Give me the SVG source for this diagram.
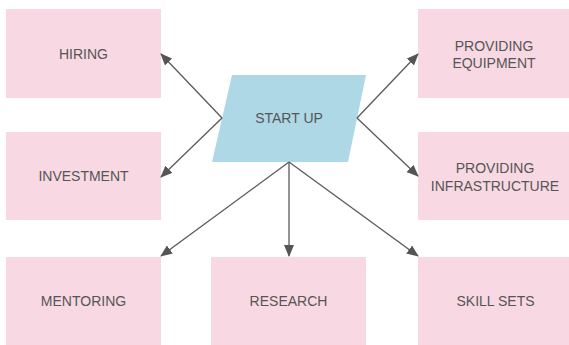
<svg xmlns="http://www.w3.org/2000/svg" width="569" height="345" viewBox="0 0 569 345">
<style>
.box{fill:#f8d9e3;}
.start{fill:#aed8e6;}
.lbl{font-family:"Liberation Sans",Arial,sans-serif;font-size:14px;fill:#555555;text-anchor:middle;}
.conn{stroke:#5a5a5a;stroke-width:1.3;fill:none;marker-end:url(#arr);}
</style>
<defs>
<marker id="arr" markerUnits="userSpaceOnUse" markerWidth="12" markerHeight="10" refX="11" refY="5" orient="auto" viewBox="0 0 12 10">
<path d="M0,0 L12,5 L0,10 Z" fill="#555555"/>
</marker>
</defs>
<rect width="569" height="345" fill="#ffffff"/>
<g id="hiring"><rect class="box" x="6" y="9" width="155" height="89"/><text class="lbl" x="83.5" y="59">HIRING</text></g>
<g id="investment"><rect class="box" x="6" y="132" width="155" height="88"/><text class="lbl" x="83.5" y="181">INVESTMENT</text></g>
<g id="providing-equipment"><rect class="box" x="418" y="9" width="155" height="89"/><text class="lbl" x="494" y="50.5">PROVIDING</text><text class="lbl" x="494" y="68">EQUIPMENT</text></g>
<g id="providing-infrastructure"><rect class="box" x="418" y="132" width="155" height="88"/><text class="lbl" x="495" y="173">PROVIDING</text><text class="lbl" x="495" y="191">INFRASTRUCTURE</text></g>
<g id="mentoring"><rect class="box" x="6" y="257" width="155" height="90"/><text class="lbl" x="83.5" y="306">MENTORING</text></g>
<g id="research"><rect class="box" x="211" y="257" width="155" height="90"/><text class="lbl" x="288.5" y="306">RESEARCH</text></g>
<g id="skill-sets"><rect class="box" x="418" y="257" width="155" height="90"/><text class="lbl" x="495.5" y="306">SKILL SETS</text></g>
<g id="start-up"><polygon class="start" points="232,75 366,75 348,162 212,162"/><text class="lbl" x="289" y="123">START UP</text></g>
<g id="connectors">
<line class="conn" x1="222" y1="118" x2="161" y2="54"/>
<line class="conn" x1="222" y1="118" x2="161" y2="177"/>
<line class="conn" x1="357" y1="118" x2="418" y2="54"/>
<line class="conn" x1="357" y1="118" x2="418" y2="176"/>
<line class="conn" x1="289" y1="162" x2="161" y2="256"/>
<line class="conn" x1="289" y1="162" x2="289" y2="256"/>
<line class="conn" x1="289" y1="162" x2="418" y2="256"/>
</g>
</svg>
